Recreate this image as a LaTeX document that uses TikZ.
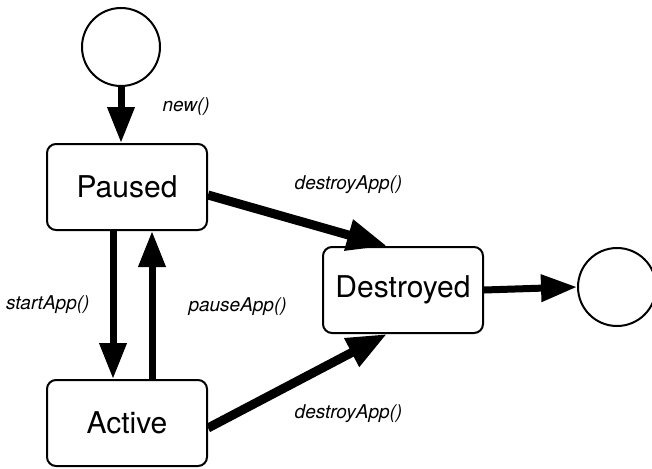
\documentclass[tikz,border=0pt]{standalone}
\usepackage{fontspec}
\setmainfont{TeX Gyre Heros}
\usetikzlibrary{positioning, arrows.meta}

\begin{document}
\begin{tikzpicture}[x=1pt,y=1pt,on grid,
    state/.style={draw,line width=2pt,rounded corners=9pt,minimum width=160pt,
      minimum height=86pt,inner sep=0pt,font=\fontsize{30}{30}\selectfont},
    pseudo/.style={draw,circle,line width=2pt,minimum size=78pt,inner sep=0pt},
    trans/.style={line width=7pt,-{Triangle[length=36pt,width=26pt]}},
    kill/.style={line width=9pt,-{Triangle[length=40pt,width=30pt]}},
    lbl/.style={font=\fontsize{19}{19}\selectfont\itshape,inner sep=0pt}]
       \useasboundingbox (0,0) rectangle (652,-468);
       \node[state] (P) at (127,-187) {Paused};
       \node[pseudo] (S) [above left=140pt and 6pt of P] {};
       \node[state] (A) [below=236pt of P] {Active};
       \node[state] (D) [below right=103pt and 276pt of P] {Destroyed};
       \node[pseudo] (E) [above right=3pt and 214pt of D] {};

       \path[trans]
       (S.south) edge node[lbl,pos=0.35,right=38pt] {new()} (S.south |- P.north)
       ([xshift=-14pt]P.south) edge node[lbl,midway,left=20pt] {startApp()} ([xshift=-14pt]A.north)
       ([xshift=25pt]A.north) edge node[lbl,pos=0.49,right=33pt] {pauseApp()} ([xshift=25pt]P.south)
       (D.east) edge (E.west);
       \path[kill]
       ([yshift=-8pt]P.east) edge node[lbl,midway,xshift=51pt,yshift=36pt] {destroyApp()} ([xshift=-16pt]D.north)
       ([yshift=-5pt]A.east) edge node[lbl,midway,xshift=51pt,yshift=-33pt] {destroyApp()} ([xshift=-16pt]D.south);
    \end{tikzpicture}
\end{document}
